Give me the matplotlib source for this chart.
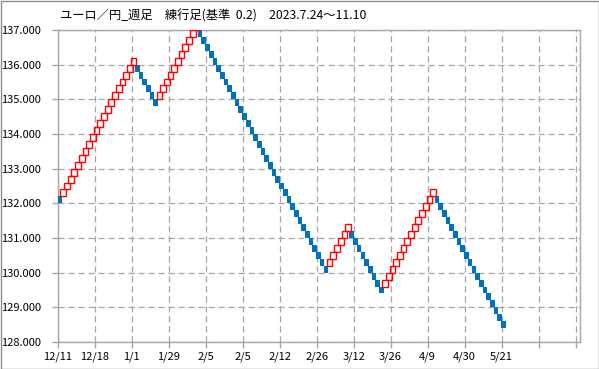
import numpy as np
import matplotlib
matplotlib.use("Agg")
import matplotlib.pyplot as plt
from matplotlib.patches import Rectangle

plt.rcParams['font.family'] = ['Noto Sans CJK JP', 'DejaVu Sans']

# brick size (yen)
box = 0.2

# bottom of each renko brick, in order
brick_low = [
    132.0,
    132.2, 132.4, 132.6, 132.8, 133.0, 133.2, 133.4, 133.6, 133.8, 134.0,
    134.2, 134.4, 134.6, 134.8, 135.0, 135.2, 135.4, 135.6, 135.8, 136.0,
    135.8, 135.6, 135.4, 135.2, 135.0, 134.8,
    135.0, 135.2, 135.4, 135.6, 135.8, 136.0, 136.2, 136.4, 136.6, 136.8, 137.0,
    136.8, 136.6, 136.4, 136.2, 136.0, 135.8, 135.6, 135.4, 135.2, 135.0,
    134.8, 134.6, 134.4, 134.2, 134.0, 133.8, 133.6, 133.4, 133.2, 133.0,
    132.8, 132.6, 132.4, 132.2, 132.0, 131.8, 131.6, 131.4, 131.2, 131.0,
    130.8, 130.6, 130.4, 130.2, 130.0,
    130.2, 130.4, 130.6, 130.8, 131.0, 131.2,
    131.0, 130.8, 130.6, 130.4, 130.2, 130.0, 129.8, 129.6, 129.4,
    129.6, 129.8, 130.0, 130.2, 130.4, 130.6, 130.8, 131.0, 131.2, 131.4,
    131.6, 131.8, 132.0, 132.2,
    132.0, 131.8, 131.6, 131.4, 131.2, 131.0, 130.8, 130.6, 130.4, 130.2,
    130.0, 129.8, 129.6, 129.4, 129.2, 129.0, 128.8, 128.6, 128.4,
]
# 1 = up brick (hollow red), 0 = down brick (blue)
brick_up = (
    [0] + [1] * 20 + [0] * 6 + [1] * 11 + [0] * 35
    + [1] * 6 + [0] * 9 + [1] * 14 + [0] * 19
)

date_labels = ['12/11', '12/18', '1/1', '1/29', '2/5', '2/5', '2/12',
               '2/26', '3/12', '3/26', '4/9', '4/30', '5/21', '', '']

title = 'ユーロ／円_週足　練行足(基準  0.2)　2023.7.24～11.10'

fig = plt.figure(figsize=(5.99, 3.69), dpi=100)
ax = fig.add_axes([57.7 / 599, 27 / 369, (580 - 57.7) / 599, (342 - 30) / 369])

low = np.array(brick_low)
up = np.array(brick_up, dtype=bool)
x = np.arange(len(low)) + 0.5

ax.bar(x[~up], box, bottom=low[~up], width=1.25, color='#0070C0',
       linewidth=0, zorder=3)
ax.bar(x[up], box, bottom=low[up], width=1.55, facecolor='none',
       edgecolor='#FF0000', linewidth=1.0, zorder=4)

ax.set_xlim(0, 141.2)
ax.set_ylim(128, 137)
ax.set_xticks(np.arange(0, 141, 10))
ax.set_xticklabels(date_labels)
ax.set_yticks(np.arange(128, 137.01, 1))
ax.set_yticklabels(['%.3f' % v for v in np.arange(128, 137.01, 1)])

ax.set_axisbelow(True)
ax.grid(True, color='#A6A6A6', linestyle=(0, (5, 3)), linewidth=0.9)
for s in ax.spines.values():
    s.set_color('#A6A6A6')
    s.set_linewidth(1.0)
ax.tick_params(axis='both', colors='#A6A6A6', length=4, width=1.0,
               labelcolor='black', labelsize=8)
ax.tick_params(axis='x', pad=3)
ax.tick_params(axis='y', pad=8)

fig.text(60 / 599, 1 - 16 / 369, title, fontsize=8.8, va='center', ha='left')

# chart-area border
fig.patches.append(Rectangle((0.5 / 599, 0.5 / 369), 598 / 599, 368 / 369,
                             transform=fig.transFigure, fill=False,
                             edgecolor='#8C8C8C', linewidth=1.0))

fig.savefig('out.png', dpi=100)
